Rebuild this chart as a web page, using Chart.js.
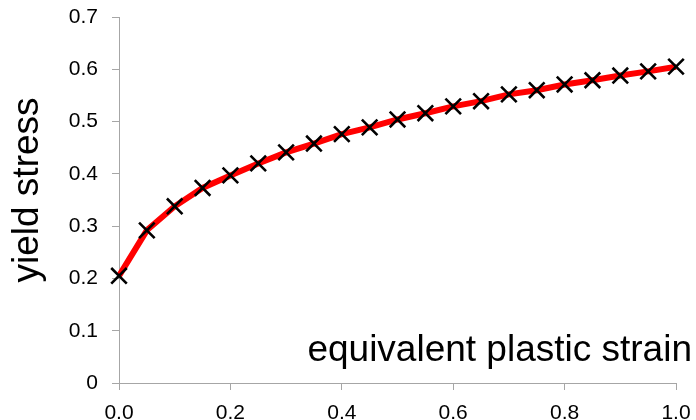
<!DOCTYPE html>
<html>
<head>
<meta charset="utf-8">
<script src="https://cdn.jsdelivr.net/npm/chart.js@4"></script>
<style>
  body { margin: 0; background: #fff; }
  canvas { display: block; }
</style>
</head>
<body>
<canvas id="strainChart" width="696" height="420"></canvas>
<script>
// data
const strain = [0.00, 0.05, 0.10, 0.15, 0.20, 0.25, 0.30, 0.35, 0.40, 0.45, 0.50,
                0.55, 0.60, 0.65, 0.70, 0.75, 0.80, 0.85, 0.90, 0.95, 1.00];
const yieldStress = [0.205, 0.292, 0.338, 0.373, 0.397, 0.420, 0.441, 0.458, 0.476, 0.489, 0.504,
                     0.516, 0.529, 0.539, 0.552, 0.560, 0.571, 0.579, 0.588, 0.596, 0.605];
const xTitle = "equivalent plastic strain";
const yTitle = "yield stress";

const FONT = "'Liberation Sans', Arial, sans-serif";
const AXIS_GREY = '#a6a6a6';

// axis titles sit where the reference puts them (x title is inside the plot)
const titlesPlugin = {
    id: 'titles',
    afterDraw(chart) {
        const ctx = chart.ctx; const area = chart.chartArea;
        ctx.save();
        ctx.fillStyle = '#000';
        ctx.font = "37px " + FONT;
        ctx.textAlign = 'right'; ctx.textBaseline = 'alphabetic';
        ctx.fillText(xTitle, area.right + 16, area.bottom - 22);
        ctx.translate(38, 190);
        ctx.rotate(-Math.PI / 2);
        ctx.textAlign = 'center';
        ctx.fillText(yTitle, 0, 0);
        ctx.restore();
    }
};

const points = strain.map((x, i) => ({ x: x, y: yieldStress[i] }));

new Chart(document.getElementById('strainChart'), {
    type: 'scatter',
    data: {
        datasets: [{
            data: points,
            showLine: true, clip: false,
            borderColor: '#ff0000', borderWidth: 6,
            pointStyle: 'crossRot', pointRadius: 11, pointHoverRadius: 11,
            pointBorderColor: '#000', pointBorderWidth: 2.6
        }]
    },
    options: {
        responsive: false, animation: false,
        layout: { padding: { left: 0, right: 20, top: 17, bottom: 0 } },
        plugins: { legend: { display: false }, tooltip: { enabled: false } },
        scales: {
            x: {
                type: 'linear', min: 0, max: 1,
                afterFit: s => { s.height = 37; s.paddingLeft = 0; s.paddingRight = 0; },
                border: { color: AXIS_GREY, width: 1 },
                grid: { drawOnChartArea: false, drawTicks: true, tickLength: 7, color: AXIS_GREY },
                ticks: { stepSize: 0.2, padding: 11, color: '#000', font: { family: FONT, size: 21 },
                         callback: v => v.toFixed(1) }
            },
            y: {
                min: 0, max: 0.7,
                afterFit: s => { s.width = 119; s.paddingTop = 0; s.paddingBottom = 0; },
                border: { color: AXIS_GREY, width: 1 },
                grid: { drawOnChartArea: false, drawTicks: true, tickLength: 7, color: AXIS_GREY },
                ticks: { stepSize: 0.1, padding: 14, color: '#000', font: { family: FONT, size: 21 },
                         callback: v => v === 0 ? '0' : v.toFixed(1) }
            }
        }
    },
    plugins: [titlesPlugin]
});
</script>
</body>
</html>
